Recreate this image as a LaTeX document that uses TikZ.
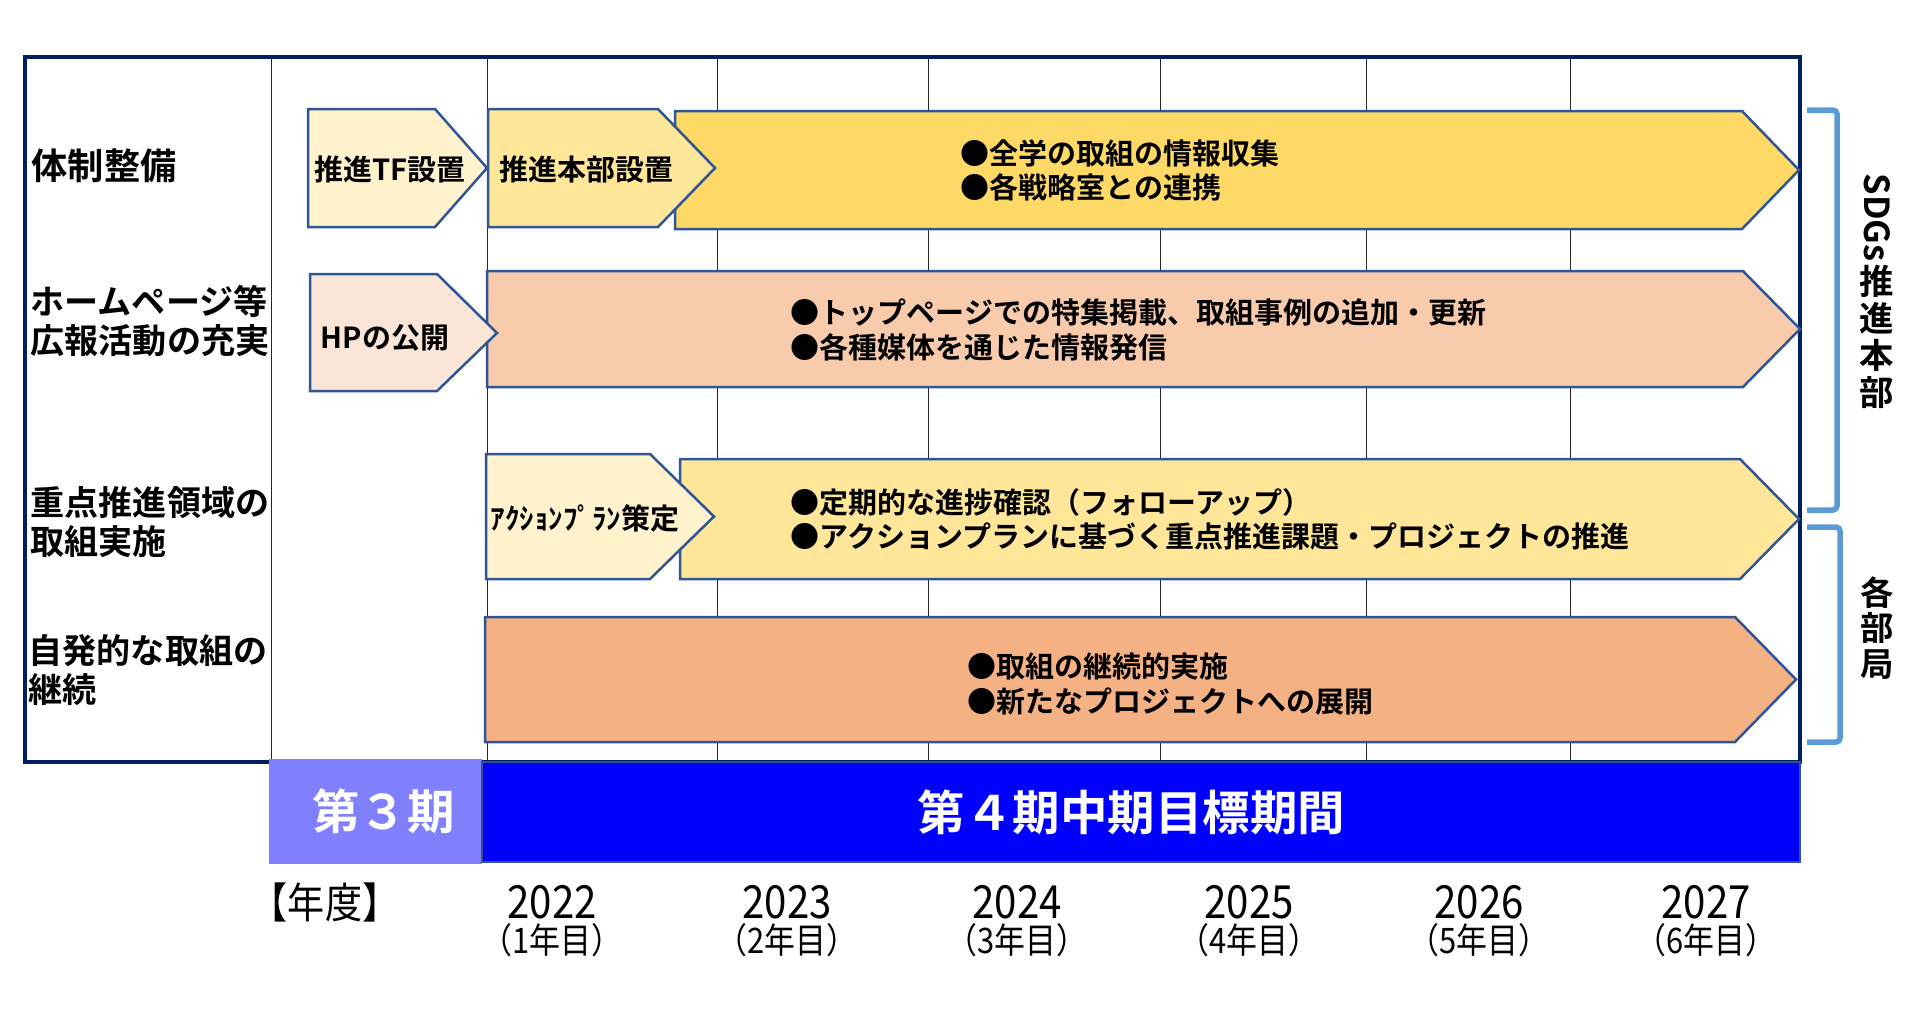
\documentclass[tikz,border=0pt]{standalone}
\usepackage{fontspec}
\setmainfont{Noto Sans CJK JP}[BoldFont={* Bold}]
\newfontfamily\jpn{Noto Sans CJK JP}[FakeStretch=0.88]
\usetikzlibrary{positioning}

\definecolor{framenavy}{HTML}{002060}
\definecolor{barline}{HTML}{2F5597}
\definecolor{cream}{HTML}{FFF2CC}
\definecolor{lightgold}{HTML}{FFE699}
\definecolor{gold}{HTML}{FFD966}
\definecolor{blush}{HTML}{FBE5D6}
\definecolor{peach}{HTML}{F8CBAD}
\definecolor{salmon}{HTML}{F4B183}
\definecolor{lavblue}{HTML}{8080FF}
\definecolor{brightblue}{HTML}{0000FF}
\definecolor{skyline}{HTML}{5B9BD5}

\begin{document}
\begin{tikzpicture}[
  bar/.style={draw=barline, line width=0.25mm, line join=miter},
  tag/.style={inner sep=0pt, font=\fontsize{8.25}{9.7}\selectfont\bfseries},
  txt/.style={anchor=west, align=left, inner sep=0pt,
              font=\fontsize{8.25}{9.7}\selectfont\bfseries},
  rowlbl/.style={anchor=west, align=left, inner sep=0pt,
                 font=\fontsize{9.7}{11.1}\selectfont\bfseries},
  yearline/.style={line width=0.1mm, black!85},
  period/.style={inner sep=0pt, text=white,
                 font=\fontsize{13.5}{15}\selectfont\bfseries},
  yr/.style={inner sep=0pt, font=\jpn\fontsize{13}{14}\selectfont},
  yrsub/.style={inner sep=0pt, font=\jpn\fontsize{10}{11}\selectfont},
  brace/.style={skyline, line width=0.55mm, rounded corners=0.4mm},
  side/.style={align=center, inner sep=0pt}
]
\useasboundingbox (0mm,0mm) rectangle (192mm,-101mm);

%% ---------- grid ----------
\foreach \x in {27.1,48.7,71.7,92.8,116.0,136.6,157.0}
  \draw[yearline] (\x mm,-5.7mm) -- (\x mm,-76.2mm);
\draw[framenavy, line width=0.4mm] (2.5mm,-5.7mm) rectangle (180mm,-76.2mm);

%% ---------- row labels ----------
\node[rowlbl, font=\fontsize{10.3}{11.1}\selectfont\bfseries] (r1) at (3.1mm,-16.6mm) {体制整備};
\node[rowlbl] (r2) at (3.0mm,-32.1mm) {ホームページ等\\広報活動の充実};
\node[rowlbl] (r3) at (3.0mm,-52.2mm) {重点推進領域の\\取組実施};
\node[rowlbl] (r4) at (2.8mm,-67.0mm) {自発的な取組の\\継続};

%% ---------- long bars ----------
\draw[bar, fill=gold] (67.5mm,-11.1mm) -- (174.2mm,-11.1mm) -- (179.9mm,-17.0mm)
  -- (174.2mm,-22.9mm) -- (67.5mm,-22.9mm) -- cycle;
\draw[bar, fill=peach] (48.7mm,-27.1mm) -- (174.3mm,-27.1mm) -- (180.0mm,-32.9mm)
  -- (174.3mm,-38.7mm) -- (48.7mm,-38.7mm) -- cycle;
\draw[bar, fill=lightgold] (68.0mm,-45.9mm) -- (174.0mm,-45.9mm) -- (179.9mm,-51.9mm)
  -- (174.0mm,-57.9mm) -- (68.0mm,-57.9mm) -- cycle;
\draw[bar, fill=salmon] (48.5mm,-61.7mm) -- (173.5mm,-61.7mm) -- (179.6mm,-67.95mm)
  -- (173.5mm,-74.2mm) -- (48.5mm,-74.2mm) -- cycle;

%% ---------- start steps ----------
\draw[bar, fill=cream] (30.8mm,-10.9mm) -- (43.5mm,-10.9mm) -- (48.7mm,-16.8mm)
  -- (43.5mm,-22.7mm) -- (30.8mm,-22.7mm) -- cycle;
\draw[bar, fill=lightgold] (48.8mm,-10.9mm) -- (65.8mm,-10.9mm) -- (71.5mm,-16.8mm)
  -- (65.8mm,-22.7mm) -- (48.8mm,-22.7mm) -- cycle;
\draw[bar, fill=blush] (31.0mm,-27.4mm) -- (43.7mm,-27.4mm) -- (49.7mm,-33.3mm)
  -- (43.7mm,-39.1mm) -- (31.0mm,-39.1mm) -- cycle;
\draw[bar, fill=cream] (48.6mm,-45.4mm) -- (65.0mm,-45.4mm) -- (71.4mm,-51.65mm)
  -- (65.0mm,-57.9mm) -- (48.6mm,-57.9mm) -- cycle;

\node[tag] (tf)    at (39.0mm,-16.9mm) {推進TF設置};
\node[tag] (hqset) at (58.6mm,-16.9mm) {推進本部設置};
\node[tag] (hp)    at (38.5mm,-33.8mm) {HPの公開};
\node[tag] (plan)  at (58.5mm,-51.8mm) {ｱｸｼｮﾝﾌﾟﾗﾝ策定};

%% ---------- bar texts ----------
\node[txt] (t1) at (96.0mm,-17.0mm) {●全学の取組の情報収集\\●各戦略室との連携};
\node[txt] (t2) at (79.0mm,-33.0mm) {●トップページでの特集掲載、取組事例の追加・更新\\●各種媒体を通じた情報発信};
\node[txt] (t3) at (79.0mm,-51.9mm) {●定期的な進捗確認（フォローアップ）\\●アクションプランに基づく重点推進課題・プロジェクトの推進};
\node[txt] (t4) at (96.7mm,-68.4mm) {●取組の継続的実施\\●新たなプロジェクトへの展開};

%% ---------- periods ----------
\node[period, fill=lavblue, minimum width=21.3mm, minimum height=10.5mm,
  text width=21.3mm, align=center, xshift=0mm]
  (p3) at (37.55mm,-81.15mm) {\hspace*{1.6mm}第３期};
\node[period, fill=brightblue, draw=barline, line width=0.2mm,
  minimum width=131.8mm, minimum height=10.0mm, text width=131.8mm, align=center]
  (p4) at (114.1mm,-81.2mm) {第４期中期目標期間\hspace*{1.9mm}};

%% ---------- years ----------
\node[yrsub, font=\jpn\fontsize{12}{13}\selectfont] (fy) at (32.5mm,-90.2mm) {【年度】};
\foreach \x/\yr/\k in {55.2/2022/1,78.7/2023/2,101.7/2024/3,124.9/2025/4,147.9/2026/5,170.6/2027/6} {
  \node[yr] (y\yr) at (\x mm,-90.2mm) {\yr};
  \node[yrsub] (s\yr) at (\x mm,-94.0mm) {（\k 年目）};
}

%% ---------- responsible bodies ----------
\draw[brace] (180.7mm,-11.0mm) -- (183.7mm,-11.0mm) -- (183.7mm,-51.0mm) -- (180.7mm,-51.0mm);
\draw[brace] (180.7mm,-52.7mm) -- (184.0mm,-52.7mm) -- (184.0mm,-74.2mm) -- (180.7mm,-74.2mm);
\node[side, font=\fontsize{9.8}{10.5}\selectfont\bfseries] (hq) at (187.7mm,-29.1mm)
  {\rotatebox{-90}{SDGs}\\推\\進\\本\\部};
\node[side, font=\fontsize{9.5}{10.2}\selectfont\bfseries] (dept) at (187.7mm,-62.8mm)
  {各\\部\\局};
\end{tikzpicture}
\end{document}
